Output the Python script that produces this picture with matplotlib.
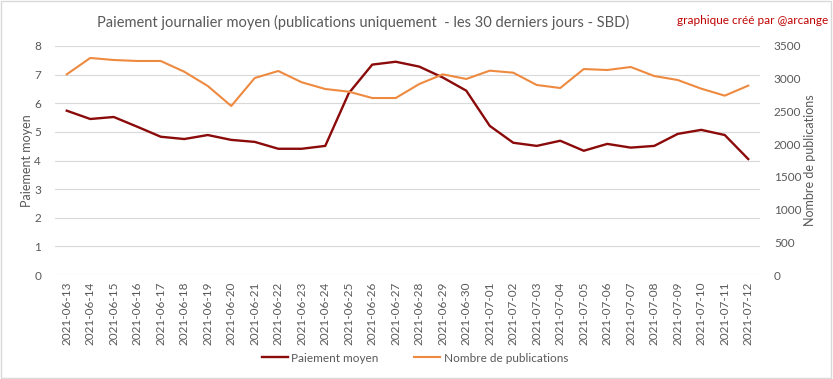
import matplotlib
matplotlib.use("Agg")
import matplotlib.pyplot as plt
from matplotlib.patches import Rectangle

plt.rcParams['font.family'] = ['Lato', 'DejaVu Sans']

dates = ["2021-06-13", "2021-06-14", "2021-06-15", "2021-06-16", "2021-06-17", "2021-06-18",
         "2021-06-19", "2021-06-20", "2021-06-21", "2021-06-22", "2021-06-23", "2021-06-24",
         "2021-06-25", "2021-06-26", "2021-06-27", "2021-06-28", "2021-06-29", "2021-06-30",
         "2021-07-01", "2021-07-02", "2021-07-03", "2021-07-04", "2021-07-05", "2021-07-06",
         "2021-07-07", "2021-07-08", "2021-07-09", "2021-07-10", "2021-07-11", "2021-07-12"]
paiement = [5.74, 5.45, 5.52, 5.18, 4.83, 4.75, 4.89, 4.72, 4.65, 4.41, 4.41, 4.51,
            6.35, 7.35, 7.45, 7.28, 6.90, 6.44, 5.21, 4.62, 4.51, 4.69, 4.34, 4.58,
            4.45, 4.51, 4.93, 5.07, 4.89, 4.05]
publications = [3067, 3317, 3286, 3271, 3271, 3107, 2889, 2583, 3011, 3118, 2945, 2843,
                2802, 2705, 2705, 2919, 3067, 2996, 3123, 3092, 2904, 2858, 3148, 3133,
                3179, 3041, 2980, 2848, 2741, 2894]

red = "#8B0A0A"
orange = "#EE8A40"
grey = "#595959"
grid = "#D9D9D9"

fig = plt.figure(figsize=(8.33, 3.79), dpi=100)
ax = fig.add_axes([55 / 833, 1 - 275 / 379, 705 / 833, 229 / 379])
ax2 = ax.twinx()

x = range(len(dates))
l1, = ax.plot(x, paiement, color=red, lw=1.7, zorder=3)
l2, = ax2.plot(x, publications, color=orange, lw=1.5, zorder=2)

ax.set_xlim(-0.5, len(dates) - 0.5)
ax.set_ylim(0, 8)
ax2.set_ylim(0, 3500)
ax.set_yticks(range(0, 9))
ax2.set_yticks(range(0, 3501, 500))
ax.set_xticks(list(x))
ax.set_xticklabels(dates, rotation=90, fontsize=8, color=grey)
ax.grid(axis='y', color=grid, lw=0.8)
ax.set_axisbelow(True)

for a in (ax, ax2):
    for s in a.spines.values():
        s.set_visible(False)
    a.tick_params(length=0, labelsize=8.5, colors=grey)
ax.tick_params(axis='y', pad=10)
ax2.tick_params(axis='y', pad=10)
ax.tick_params(axis='x', pad=5)

ax.set_ylabel("Paiement moyen", color=grey, fontsize=9, labelpad=1)
ax2.set_ylabel("Nombre de publications", color=grey, fontsize=9, labelpad=2)

fig.text(363 / 833, 1 - 22 / 379, "Paiement journalier moyen (publications uniquement  - les 30 derniers jours - SBD)",
         ha='center', va='center', fontsize=10.5, color=grey)
fig.text(828 / 833, 1 - 21 / 379, "graphique créé par @arcange", ha='right', va='center',
         fontsize=8.5, color="#C00000")

fig.legend([l1, l2], ["Paiement moyen", "Nombre de publications"], loc='center',
           bbox_to_anchor=(415 / 833, 1 - 358 / 379), ncol=2, frameon=False,
           fontsize=8.5, labelcolor=grey, handlelength=2.2, columnspacing=3, handletextpad=0.3)

fig.patches.append(Rectangle((0.001, 0.002), 0.997, 0.995, transform=fig.transFigure,
                             fill=False, edgecolor=grid, lw=1))

fig.savefig("out.png", dpi=100)
